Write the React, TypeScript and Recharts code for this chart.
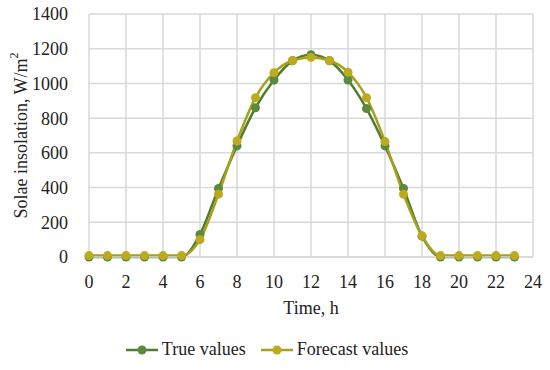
import React from 'react';
import { LineChart, Line, XAxis, YAxis, CartesianGrid, Legend } from 'recharts';

const HOURS = [0, 1, 2, 3, 4, 5, 6, 7, 8, 9, 10, 11, 12, 13, 14, 15, 16, 17, 18, 19, 20, 21, 22, 23];
const TRUE_VALUES = [0, 0, 0, 0, 0, 0, 130, 395, 640, 860, 1020, 1130, 1165, 1130, 1020, 855, 640, 395, 120, 0, 0, 0, 0, 0];
const FORECAST_VALUES = [8, 8, 8, 8, 8, 8, 100, 362, 668, 918, 1062, 1132, 1150, 1132, 1065, 918, 665, 362, 122, 8, 8, 8, 8, 8];
const X_TICKS = [0, 2, 4, 6, 8, 10, 12, 14, 16, 18, 20, 22, 24];
const Y_TICKS = [0, 200, 400, 600, 800, 1000, 1200, 1400];

const TRUE_LINE = '#4f7d2f';
const TRUE_DOT = '#5a8a3d';
const FC_LINE = '#a9a11b';
const FC_DOT = '#bcaa1f';

const data = HOURS.map((h, i) => ({ hour: h, trueVal: TRUE_VALUES[i], forecast: FORECAST_VALUES[i] }));

const font = 'Liberation Serif';

const YLabel = (props: any) => {
  const { viewBox } = props;
  const cx = 21;
  const cy = viewBox.y + viewBox.height / 2;
  return (
    <text
      x={cx}
      y={cy}
      transform={`rotate(-90 ${cx} ${cy})`}
      textAnchor="middle"
      dominantBaseline="central"
      fontFamily={font}
      fontSize={18}
      fill="#222"
    >
      Solae insolation, W/m<tspan fontSize={12} dy={-7}>2</tspan>
    </text>
  );
};

const LegendContent = () => {
  const items = [
    { name: 'True values', line: TRUE_LINE, dot: TRUE_DOT },
    { name: 'Forecast values', line: FC_LINE, dot: FC_DOT },
  ];
  return (
    <div style={{ display: 'flex', justifyContent: 'center', gap: 14, fontFamily: font, fontSize: 18, color: '#222' }}>
      {items.map((it) => (
        <div key={it.name} style={{ display: 'flex', alignItems: 'center' }}>
          <svg width={34} height={12} style={{ marginRight: 3 }}>
            <line x1={1} y1={6} x2={33} y2={6} stroke={it.line} strokeWidth={2.5} />
            <circle cx={17} cy={6} r={4.5} fill={it.dot} />
          </svg>
          <span>{it.name}</span>
        </div>
      ))}
    </div>
  );
};

export default function App() {
  return (
    <div style={{ position: 'absolute', left: 0, top: 0, width: 550, height: 370, background: '#fff', fontFamily: font }}>
      <LineChart width={550} height={370} data={data} margin={{ top: 14, right: 17, bottom: 1, left: 0 }}>
        <CartesianGrid stroke="#d9d9d9" strokeWidth={1.5} />
        <XAxis
          dataKey="hour"
          type="number"
          domain={[0, 24]}
          ticks={X_TICKS}
          interval={0}
          height={82}
          tickLine={false}
          tickMargin={12}
          axisLine={{ stroke: '#d9d9d9', strokeWidth: 1.5 }}
          tick={{ fontFamily: font, fontSize: 18, fill: '#222' }}
          label={{ value: 'Time, h', position: 'insideTop', offset: 44, fontFamily: font, fontSize: 18, fill: '#222' }}
        />
        <YAxis
          domain={[0, 1400]}
          ticks={Y_TICKS}
          interval={0}
          width={89}
          tickLine={false}
          axisLine={false}
          tickMargin={15}
          tick={{ fontFamily: font, fontSize: 18, fill: '#222' }}
          label={<YLabel />}
        />
        <Legend verticalAlign="bottom" height={30} content={<LegendContent />} />
        <Line
          type="monotone"
          dataKey="trueVal"
          name="True values"
          stroke={TRUE_LINE}
          strokeWidth={2.5}
          dot={{ r: 4.5, fill: TRUE_DOT, stroke: TRUE_DOT, strokeWidth: 0 }}
          isAnimationActive={false}
        />
        <Line
          type="monotone"
          dataKey="forecast"
          name="Forecast values"
          stroke={FC_LINE}
          strokeWidth={2.5}
          dot={{ r: 4.5, fill: FC_DOT, stroke: FC_DOT, strokeWidth: 0 }}
          isAnimationActive={false}
        />
      </LineChart>
    </div>
  );
}
